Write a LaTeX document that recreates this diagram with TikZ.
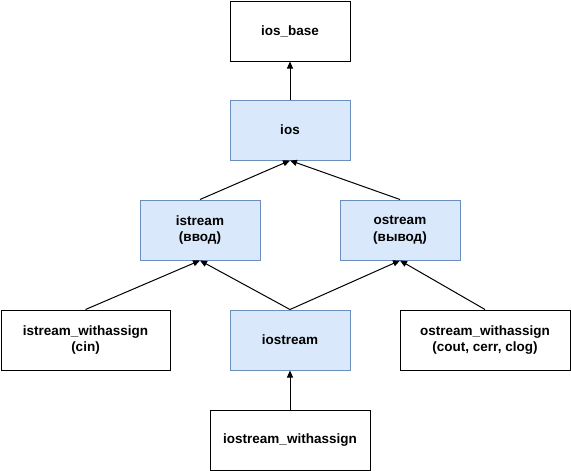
\documentclass[tikz,border=0pt]{standalone}
\usepackage{fontspec}
\setmainfont{Liberation Sans}
\usetikzlibrary{arrows.meta}
\definecolor{bluefill}{HTML}{DAE8FC}
\definecolor{blueline}{HTML}{6C8EBF}
\begin{document}
\begin{tikzpicture}[x=1pt,y=-1pt,
  box/.style={draw=black,fill=white,line width=1pt,minimum width=120pt,minimum height=60pt,
    align=center,inner sep=0pt,font=\fontsize{13.5}{16.5}\selectfont\bfseries},
  bluebox/.style={box,draw=blueline,fill=bluefill},
  conn/.style={line width=1pt,-{Triangle[length=7pt,width=6pt]}}]
\useasboundingbox (0,0) rectangle (571,471);
\node[box] (iosbase) at (290,31) {ios\_base};
\node[bluebox] (ios) at (290,130) {ios};
\node[bluebox] (istream) at (200,230) {istream\\(ввод)};
\node[bluebox] (ostream) at (400,230) {ostream\\(вывод)};
\node[box,minimum width=169pt] (isw) at (85.5,340) {istream\_withassign\\(cin)};
\node[bluebox] (iostream) at (290,340) {iostream};
\node[box,minimum width=170pt] (osw) at (485,340) {ostream\_withassign\\(cout, cerr, clog)};
\node[box,minimum width=160pt] (iosw) at (290,440) {iostream\_withassign};
\draw[conn] (ios.north) -- (iosbase.south);
\draw[conn] (istream.north) -- (ios.south);
\draw[conn] (ostream.north) -- (ios.south);
\draw[conn] (isw.north) -- (istream.south);
\draw[conn] (iostream.north) -- (istream.south);
\draw[conn] (iostream.north) -- (ostream.south);
\draw[conn] (osw.north) -- (ostream.south);
\draw[conn] (iosw.north) -- (iostream.south);
\end{tikzpicture}
\end{document}
